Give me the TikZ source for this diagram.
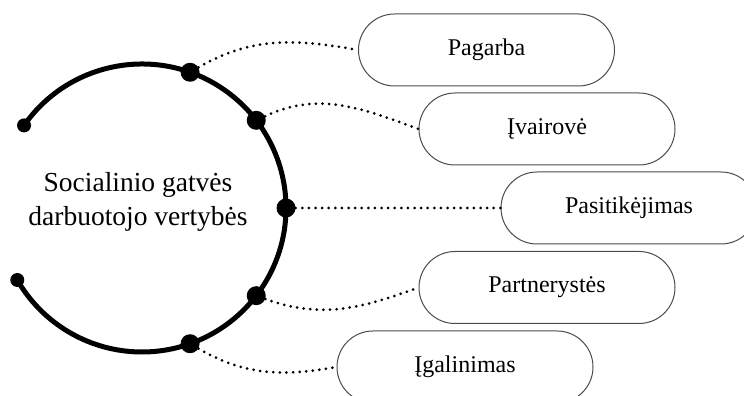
\documentclass[tikz,border=0pt]{standalone}
\usepackage{fontspec}
\setmainfont{Liberation Serif}
\usetikzlibrary{calc}
\begin{document}
\begin{tikzpicture}[x=1pt,y=1pt,
  pill/.style={draw=black!70, line width=1pt, rounded corners=36pt, minimum width=256pt, minimum height=72pt, inner sep=0pt, font=\fontsize{24}{28}\selectfont, fill=white},
  bigdot/.style={circle, fill=black, inner sep=0pt, minimum size=19pt},
  enddot/.style={circle, fill=black, inner sep=0pt, minimum size=14pt},
  conn/.style={line width=3pt, dash pattern=on 0pt off 6.6pt, line cap=round},
  ring/.style={line width=5pt}]
\useasboundingbox (0,0) rectangle (744,396);
\clip (0,0) rectangle (744,396);
\coordinate (c) at (142,188);
\draw[ring] ($(c)+(145:144)$) arc[start angle=145, end angle=-150, radius=144];
\node[enddot] (e1) at ($(c)+(145:144)$) {};
\node[enddot] (e2) at ($(c)+(-150:144)$) {};
\node[bigdot] (d1) at ($(c)+(70.5:144)$) {};
\node[bigdot] (d2) at ($(c)+(37.5:144)$) {};
\node[bigdot] (d3) at ($(c)+(0:144)$) {};
\node[bigdot] (d4) at ($(c)+(-37.5:144)$) {};
\node[bigdot] (d5) at ($(c)+(-70.5:144)$) {};
\node[align=center, inner sep=0pt, font=\fontsize{27.5}{34}\selectfont] (title) at (138,194) {Socialinio gatvės\\darbuotojo vertybės};
\node[pill] (p1) at (486.5,346) {Pagarba};
\node[pill] (p2) at (547,267) {Įvairovė};
\node[pill] (p3) at (629,188) {Pasitikėjimas};
\node[pill] (p4) at (547,108.5) {Partnerystės};
\node[pill] (p5) at (465,29) {Įgalinimas};
\draw[conn] (d1) to[out=30, in=170] (p1.west);
\draw[conn] (d2) to[out=25, in=160] (p2.west);
\draw[conn] (d3) -- (p3.west);
\draw[conn] (d4) to[out=-20, in=200] (p4.west);
\draw[conn] (d5) to[out=-30, in=190] (p5.west);
\end{tikzpicture}
\end{document}
